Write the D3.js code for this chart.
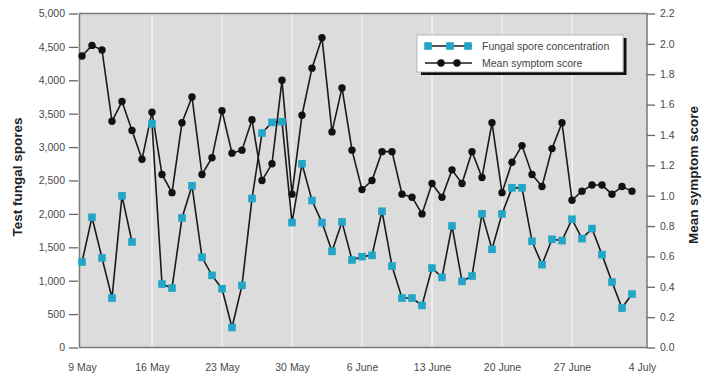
<!DOCTYPE html>
<html>
<head>
<meta charset="utf-8">
<script src="https://cdn.jsdelivr.net/npm/d3@7"></script>
<style>
  body { margin: 0; background: #fff; }
  text { font-family: "Liberation Sans", Arial, sans-serif; }
</style>
</head>
<body>
<svg id="chart" width="703" height="379"></svg>
<script>
// Daily observations, 9 May to 3 July
const startDate = "9 May 2003";

// Test fungal spores per day (null = no sample taken)
const spores = [
  1280, 1950, 1340, 740, 2270, 1580, null, 3350, 950, 890,
  1940, 2420, 1350, 1080, 880, 300, 930, 2230, 3210, 3370,
  3380, 1870, 2750, 2200, 1870, 1440, 1880, 1310, 1360, 1380,
  2040, 1220, 740, 740, 630, 1190, 1050, 1820, 990, 1070,
  2000, 1470, 2000, 2390, 2390, 1590, 1240, 1620, 1600, 1920,
  1630, 1780, 1390, 980, 590, 800
];

// Mean symptom score per day
const symptoms = [
  1.92, 1.99, 1.96, 1.49, 1.62, 1.43, 1.24, 1.55, 1.14, 1.02,
  1.48, 1.65, 1.14, 1.25, 1.56, 1.28, 1.30, 1.50, 1.10, 1.21,
  1.76, 1.01, 1.53, 1.84, 2.04, 1.42, 1.71, 1.30, 1.04, 1.10,
  1.29, 1.29, 1.01, 0.99, 0.88, 1.08, 0.99, 1.17, 1.08, 1.29,
  1.12, 1.48, 1.02, 1.22, 1.33, 1.14, 1.06, 1.31, 1.48, 0.97,
  1.03, 1.07, 1.07, 1.01, 1.06, 1.03
];

const sporeTicks = [0, 500, 1000, 1500, 2000, 2500, 3000, 3500, 4000, 4500, 5000];
const scoreTicks = [0, 0.2, 0.4, 0.6, 0.8, 1.0, 1.2, 1.4, 1.6, 1.8, 2.0, 2.2];
const dateTicks = ["9 May", "16 May", "23 May", "30 May", "6 June", "13 June", "20 June", "27 June", "4 July"];

const seriesNames = ["Fungal spore concentration", "Mean symptom score"];
const sporeColor = "#22a5c6";
const lineColor = "#1a1a1a";

const parseDay = d3.timeParse("%d %B %Y");
const start = parseDay(startDate);
const tickDates = dateTicks.map(s => parseDay(s + " 2003"));
const days = spores.map((_, i) => d3.timeDay.offset(start, i));

const svg = d3.select("#chart");

const plot = { left: 79.5, right: 647, top: 13.5, bottom: 347.5 };

const x = d3.scaleTime()
  .domain([d3.timeHour.offset(start, -6), d3.timeHour.offset(tickDates[tickDates.length - 1], 12)])
  .range([plot.left, plot.right]);
const yL = d3.scaleLinear().domain([0, 5000]).range([plot.bottom, plot.top]);
const yR = d3.scaleLinear().domain([0, 2.2]).range([plot.bottom, plot.top]);

// plot background
svg.append("rect")
  .attr("x", plot.left).attr("y", plot.top)
  .attr("width", plot.right - plot.left).attr("height", plot.bottom - plot.top)
  .attr("fill", "#dcdcdc");

// weekly vertical gridlines
svg.append("g").selectAll("line")
  .data(tickDates.slice(1, -1))
  .join("line")
  .attr("x1", d => x(d)).attr("x2", d => x(d))
  .attr("y1", plot.top).attr("y2", plot.bottom)
  .attr("stroke", "#f6f6f6").attr("stroke-width", 1.2);

// plot frame
svg.append("rect")
  .attr("x", plot.left).attr("y", plot.top)
  .attr("width", plot.right - plot.left).attr("height", plot.bottom - plot.top)
  .attr("fill", "none").attr("stroke", "#7a7a7a").attr("stroke-width", 1.5);

// left axis
const axL = svg.append("g")
  .attr("transform", `translate(${plot.left - 1.5},0)`)
  .call(d3.axisLeft(yL).tickValues(sporeTicks).tickFormat(d3.format(",")).tickSize(9).tickPadding(4));
axL.select(".domain").remove();

// right axis
const axR = svg.append("g")
  .attr("transform", `translate(${plot.right},0)`)
  .call(d3.axisRight(yR).tickValues(scoreTicks).tickFormat(d3.format(".1f")).tickSize(8).tickPadding(5));
axR.select(".domain").remove();

// date labels
const axB = svg.append("g")
  .attr("transform", `translate(0,${plot.bottom})`)
  .call(d3.axisBottom(x).tickValues(tickDates).tickFormat((d, i) => dateTicks[i]).tickSize(0).tickPadding(16));
axB.select(".domain").remove();

[axL, axR, axB].forEach(g => {
  g.selectAll("line").attr("stroke", "#666").attr("stroke-width", 1.3);
  g.selectAll("text").attr("fill", "#4a4a4a").style("font-size", "10.5px");
});

// axis titles
svg.append("text")
  .attr("transform", `translate(22,177) rotate(-90)`)
  .attr("text-anchor", "middle")
  .style("font-size", "13.5px").style("font-weight", "bold")
  .attr("fill", "#222")
  .text("Test fungal spores");

svg.append("text")
  .attr("transform", `translate(698,175) rotate(-90)`)
  .attr("text-anchor", "middle")
  .style("font-size", "13.5px").style("font-weight", "bold")
  .attr("fill", "#222")
  .text("Mean symptom score");

// symptom score series
const symPts = symptoms.map((v, i) => ({ d: days[i], v }));
svg.append("path")
  .datum(symPts)
  .attr("fill", "none").attr("stroke", lineColor).attr("stroke-width", 1.6)
  .attr("d", d3.line().x(p => x(p.d)).y(p => yR(p.v)));
svg.append("g").selectAll("circle")
  .data(symPts)
  .join("circle")
  .attr("cx", p => x(p.d)).attr("cy", p => yR(p.v)).attr("r", 3.7)
  .attr("fill", "#111");

// spore series
const sporePts = spores.map((v, i) => ({ d: days[i], v }));
svg.append("path")
  .datum(sporePts)
  .attr("fill", "none").attr("stroke", lineColor).attr("stroke-width", 1.6)
  .attr("d", d3.line().defined(p => p.v != null).x(p => x(p.d)).y(p => yL(p.v)));
svg.append("g").selectAll("rect")
  .data(sporePts.filter(p => p.v != null))
  .join("rect")
  .attr("x", p => x(p.d) - 3.8).attr("y", p => yL(p.v) - 3.8)
  .attr("width", 7.6).attr("height", 7.6)
  .attr("fill", sporeColor);

// legend
const lg = svg.append("g").attr("transform", "translate(417,35)");
lg.append("path")
  .attr("d", "M4,38.5 H208 V3")
  .attr("fill", "none").attr("stroke", "#111").attr("stroke-width", 3);
lg.append("rect")
  .attr("x", 0).attr("y", 0).attr("width", 206).attr("height", 37)
  .attr("fill", "#fff").attr("stroke", "#aaa").attr("stroke-width", 0.8);

const rows = [
  { name: seriesNames[0], y: 11, marks: [11, 33, 51], square: true },
  { name: seriesNames[1], y: 28, marks: [24, 40], square: false }
];
rows.forEach(r => {
  lg.append("line")
    .attr("x1", 8).attr("x2", 55).attr("y1", r.y).attr("y2", r.y)
    .attr("stroke", lineColor).attr("stroke-width", 1.6);
  r.marks.forEach(m => {
    if (r.square) {
      lg.append("rect").attr("x", m - 3.8).attr("y", r.y - 3.8)
        .attr("width", 7.6).attr("height", 7.6).attr("fill", sporeColor);
    } else {
      lg.append("circle").attr("cx", m).attr("cy", r.y).attr("r", 3.7).attr("fill", "#111");
    }
  });
  lg.append("text")
    .attr("x", 65).attr("y", r.y).attr("dy", "0.35em")
    .style("font-size", "10.5px").attr("fill", "#444")
    .text(r.name);
});
</script>
</body>
</html>
